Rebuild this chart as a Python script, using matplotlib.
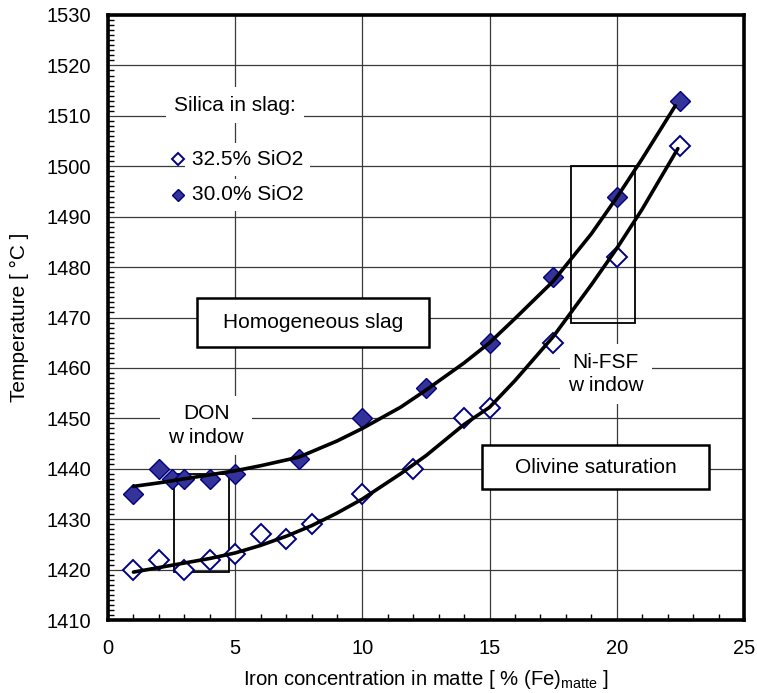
import matplotlib
matplotlib.use("Agg")
import matplotlib.pyplot as plt
from matplotlib.patches import Rectangle
from matplotlib.ticker import MultipleLocator

plt.rcParams.update({
    "font.family": ["Liberation Sans", "DejaVu Sans"],
    "font.size": 15,
    "mathtext.default": "regular",
})

# ── data ─────────────────────────────────────────────────────────────────────
# 32.5 % SiO2 (open diamonds)
fe_325 = [1, 2, 3, 4, 5, 6, 7, 8, 10, 12, 14, 15, 17.5, 20, 22.5]
t_325 = [1420, 1422, 1420, 1422, 1423, 1427, 1426, 1429, 1435, 1440,
         1450, 1452, 1465, 1482, 1504]

# 30.0 % SiO2 (filled diamonds)
fe_300 = [1, 2, 2.5, 3, 4, 5, 7.5, 10, 12.5, 15, 17.5, 20, 22.5]
t_300 = [1435, 1440, 1438, 1438, 1438, 1439, 1442, 1450, 1456, 1465,
         1478, 1494, 1513]

# hand-fitted trend lines
fit_x_300 = [1, 2, 3, 4, 5, 6, 7.5, 9, 10, 11.5, 12.5, 14, 15, 16, 17.5,
             19, 20, 21, 22.3]
fit_t_300 = [1436.5, 1437.2, 1438, 1438.8, 1439.6, 1440.6, 1442.3, 1445.5,
             1448, 1452.2, 1455.6, 1461, 1465, 1469.8, 1477.2, 1486.6,
             1493.8, 1501.5, 1512]

fit_x_325 = [1, 2, 3, 4, 5, 6, 7, 8, 9, 10, 11.5, 12.5, 14, 15, 16, 17.5,
             19, 20, 21, 22.4]
fit_t_325 = [1419.5, 1420.4, 1421.3, 1422.2, 1423.3, 1424.8, 1426.6,
             1428.7, 1431.2, 1434, 1439, 1442.6, 1448.8, 1452.2, 1457.5,
             1466.2, 1476.5, 1483.7, 1491.5, 1503.5]

# ── figure ───────────────────────────────────────────────────────────────────
fig = plt.figure(figsize=(7.57, 6.93), dpi=100)
ax = fig.add_axes([108 / 757, 1 - 620 / 693, (744 - 108) / 757, (620 - 15) / 693])

ax.set_xlim(0, 25)
ax.set_ylim(1410, 1530)
ax.xaxis.set_major_locator(MultipleLocator(5))
ax.xaxis.set_minor_locator(MultipleLocator(1))
ax.yaxis.set_major_locator(MultipleLocator(10))
ax.yaxis.set_minor_locator(MultipleLocator(1))
ax.tick_params(which="major", direction="in", length=0, labelsize=14.5)
ax.tick_params(axis="y", which="major", pad=12)
ax.tick_params(axis="x", which="major", pad=14)
ax.tick_params(which="minor", direction="in", length=4, width=1)
ax.grid(True, which="major", color="#3a3a3a", linewidth=0.9, zorder=0)
for sp in ax.spines.values():
    sp.set_linewidth(2.6)

# boxes and window rectangles
ax.add_patch(Rectangle((3.5, 1464.2), 9.12, 9.6, facecolor="white",
                       edgecolor="black", linewidth=1.8, zorder=2))
ax.text(8.06, 1469.1, "Homogeneous slag", ha="center", va="center",
        fontsize=15, zorder=3)
ax.add_patch(Rectangle((14.69, 1435.9), 8.95, 8.8, facecolor="white",
                       edgecolor="black", linewidth=1.8, zorder=2))
ax.text(19.17, 1440.3, "Olivine saturation", ha="center", va="center",
        fontsize=15, zorder=3)

ax.add_patch(Rectangle((2.6, 1419.6), 2.15, 19.4, fill=False,
                       edgecolor="black", linewidth=1.3, zorder=3))
ax.add_patch(Rectangle((18.2, 1469.0), 2.5, 31.0, fill=False,
                       edgecolor="black", linewidth=1.3, zorder=3))

white = dict(facecolor="white", edgecolor="none", pad=6)
ax.text(3.86, 1448.6, "DON\nw indow", ha="center", va="center",
        fontsize=15, linespacing=1.3, bbox=white, zorder=2)
ax.text(19.57, 1458.8, "Ni-FSF\nw indow", ha="center", va="center",
        fontsize=15, linespacing=1.3, bbox=white, zorder=2)
ax.text(4.99, 1512.1, "Silica in slag:", ha="center", va="center",
        fontsize=15, bbox=white, zorder=2)

# legend drawn by hand in the upper-left corner
ax.plot([2.77], [1501.4], linestyle="none", marker="D", markersize=6.6,
        markerfacecolor="white", markeredgecolor="#000080",
        markeredgewidth=1.4, zorder=4)
ax.text(3.29, 1501.4, "32.5% SiO2", ha="left", va="center", fontsize=15,
        bbox=dict(facecolor="white", edgecolor="none", pad=5), zorder=2)
ax.plot([2.77], [1494.3], linestyle="none", marker="D", markersize=6.6,
        markerfacecolor="#333399", markeredgecolor="#000080",
        markeredgewidth=1.0, zorder=4)
ax.text(3.29, 1494.3, "30.0% SiO2", ha="left", va="center", fontsize=15,
        bbox=dict(facecolor="white", edgecolor="none", pad=5), zorder=2)

# data
ax.plot(fe_325, t_325, linestyle="none", marker="D", markersize=10,
        markerfacecolor="white", markeredgecolor="#000080",
        markeredgewidth=1.4, zorder=4)
ax.plot(fe_300, t_300, linestyle="none", marker="D", markersize=10,
        markerfacecolor="#333399", markeredgecolor="#000080",
        markeredgewidth=1.0, zorder=4)

# trend lines
ax.plot(fit_x_300, fit_t_300, color="black", linewidth=2.6, zorder=5,
        solid_capstyle="round")
ax.plot(fit_x_325, fit_t_325, color="black", linewidth=2.6, zorder=5,
        solid_capstyle="round")

ax.set_xlabel("Iron concentration in matte [ % (Fe)$_{matte}$ ]",
              fontsize=14.6)
ax.set_ylabel("Temperature [ °C ]", fontsize=15)
ax.xaxis.set_label_coords(0.5, -(668 - 620) / 605, transform=ax.transAxes)
ax.yaxis.set_label_coords(-(108 - 29) / 636, 0.5, transform=ax.transAxes)

fig.savefig("out.png", dpi=100)
